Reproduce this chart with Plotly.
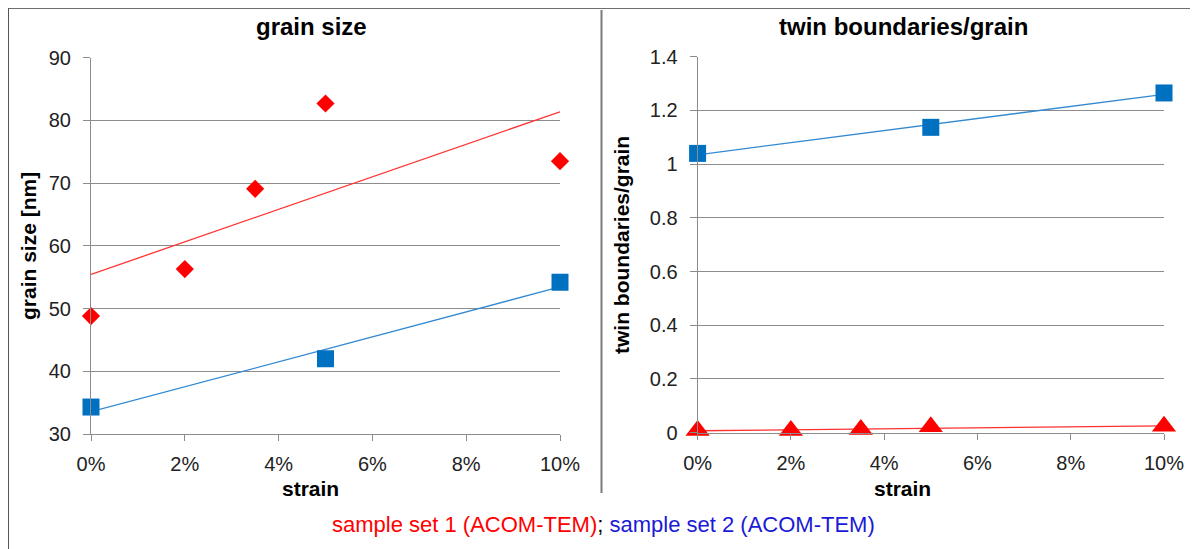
import numpy as np
import plotly.graph_objects as go

# ---- data ----
strain_set1 = [0.0, 0.02, 0.035, 0.05, 0.10]
grain_size_set1 = [48.8, 56.3, 69.1, 82.7, 73.5]
twin_set1 = [0.008, 0.008, 0.012, 0.022, 0.024]

strain_set2 = [0.0, 0.05, 0.10]
grain_size_set2 = [34.3, 42.0, 54.2]
twin_set2 = [1.04, 1.137, 1.265]

x_ticks = [0.0, 0.02, 0.04, 0.06, 0.08, 0.10]
x_tick_labels = ["0%", "2%", "4%", "6%", "8%", "10%"]

titles = ["grain size", "twin boundaries/grain"]
y_titles = ["grain size [nm]", "twin boundaries/grain"]
x_title = "strain"
legend_set1 = "sample set 1 (ACOM-TEM)"
legend_set2 = "sample set 2 (ACOM-TEM)"

RED = "#FF0000"
BLUE = "#0070C0"
RED_LINE = "#FF3030"
BLUE_LINE = "#3389D2"
GRID = "#8C8C8C"
FONT = "Liberation Sans, Arial, sans-serif"
W, H = 1198, 549
OFF = 8  # page body margin offset


def px(x):
    return (x - OFF) / W


def py(y):
    return 1 - (y - OFF) / H


def trend(xs, ys):
    k, b = np.polyfit(xs, ys, 1)
    xx = np.array([0.0, 0.10])
    return xx, k * xx + b


fig = go.Figure()

for xs, ys, col, lcol, sym, size, xa, ya in [
    (strain_set1, grain_size_set1, RED, RED_LINE, "diamond", 14, "x", "y"),
    (strain_set2, grain_size_set2, BLUE, BLUE_LINE, "square", 17, "x", "y"),
    (strain_set2, twin_set2, BLUE, BLUE_LINE, "square", 17, "x2", "y2"),
    (strain_set1, twin_set1, RED, RED_LINE, "triangle-up", 21, "x2", "y2"),
]:
    tx, ty = trend(xs, ys)
    fig.add_trace(go.Scatter(x=tx, y=ty, mode="lines", xaxis=xa, yaxis=ya,
                             line=dict(color=lcol, width=1.3), cliponaxis=False,
                             showlegend=False, hoverinfo="skip"))
    fig.add_trace(go.Scatter(x=xs, y=ys, mode="markers", xaxis=xa, yaxis=ya,
                             marker=dict(symbol=sym, size=size, color=col, line=dict(width=0)),
                             cliponaxis=False, showlegend=False))

# plot areas in (reference) pixels
L = dict(x0=91, x1=560, y0=57.7, y1=434)
R = dict(x0=697.6, x1=1164, y0=56.7, y1=432.7)


def dom_x(p):
    return [px(p["x0"]), px(p["x1"])]


def dom_y(p):
    return [py(p["y1"]), py(p["y0"])]


tickfont = dict(family=FONT, size=20, color="#222222")
common_x = dict(range=[0, 0.10], tickvals=x_ticks, ticktext=x_tick_labels,
                showgrid=False, zeroline=False, showline=True, linecolor=GRID,
                linewidth=1, ticks="outside", ticklen=6, tickcolor=GRID,
                tickfont=tickfont, ticklabelstandoff=6, fixedrange=True,
                automargin=False)
common_y = dict(showgrid=True, gridcolor=GRID, gridwidth=1, zeroline=False,
                showline=True, linecolor=GRID, linewidth=1, ticks="outside",
                ticklen=7, tickcolor=GRID, tickfont=tickfont,
                ticklabelstandoff=8, fixedrange=True, automargin=False)

fig.update_layout(
    width=W, height=H, autosize=False,
    margin=dict(l=0, r=0, t=0, b=0, pad=0, autoexpand=False),
    paper_bgcolor="white", plot_bgcolor="white",
    font=dict(family=FONT, color="black"),
    xaxis=dict(domain=dom_x(L), anchor="y", **common_x),
    yaxis=dict(domain=dom_y(L), anchor="x", range=[30, 90], dtick=10, **common_y),
    xaxis2=dict(domain=dom_x(R), anchor="y2", **common_x),
    yaxis2=dict(domain=dom_y(R), anchor="x2", range=[0, 1.4], dtick=0.2, **common_y),
)

ann = []
ann.append(dict(text="<b>%s</b>" % titles[0], x=px(311), y=py(26),
                font=dict(size=24, family=FONT, color="black")))
ann.append(dict(text="<b>%s</b>" % titles[1], x=px(903), y=py(26),
                font=dict(size=24, family=FONT, color="black")))
ann.append(dict(text="<b>%s</b>" % x_title, x=px(310), y=py(488),
                font=dict(size=21, family=FONT, color="black")))
ann.append(dict(text="<b>%s</b>" % x_title, x=px(902), y=py(488),
                font=dict(size=21, family=FONT, color="black")))
ann.append(dict(text="<b>%s</b>" % y_titles[0], x=px(29), y=py(246), textangle=-90,
                font=dict(size=21, family=FONT, color="black")))
ann.append(dict(text="<b>%s</b>" % y_titles[1], x=px(621), y=py(245), textangle=-90,
                font=dict(size=21, family=FONT, color="black")))
ann.append(dict(text='<span style="color:#FF0000">%s</span>; <span style="color:#1A1AD6">%s</span>'
                % (legend_set1, legend_set2),
                x=px(603.5), y=py(524),
                font=dict(size=22, family=FONT, color="black")))
for a in ann:
    a.update(xref="paper", yref="paper", showarrow=False, xanchor="center", yanchor="middle")
fig.update_layout(annotations=ann)

shapes = [
    dict(type="line", x0=px(8), x1=px(1198), y0=py(8), y1=py(8), line=dict(color="#6E6E6E", width=2)),
    dict(type="line", x0=px(8), x1=px(8), y0=py(8), y1=py(549), line=dict(color="#555555", width=2)),
    dict(type="line", x0=px(1196.5), x1=px(1196.5), y0=py(8), y1=py(549), line=dict(color="#D8D8D8", width=1.5)),
    dict(type="line", x0=px(601.5), x1=px(601.5), y0=py(10), y1=py(493), line=dict(color="#7A7A7A", width=2)),
]
for s in shapes:
    s.update(xref="paper", yref="paper", layer="above")
fig.update_layout(shapes=shapes)

fig.write_html("out.html")
